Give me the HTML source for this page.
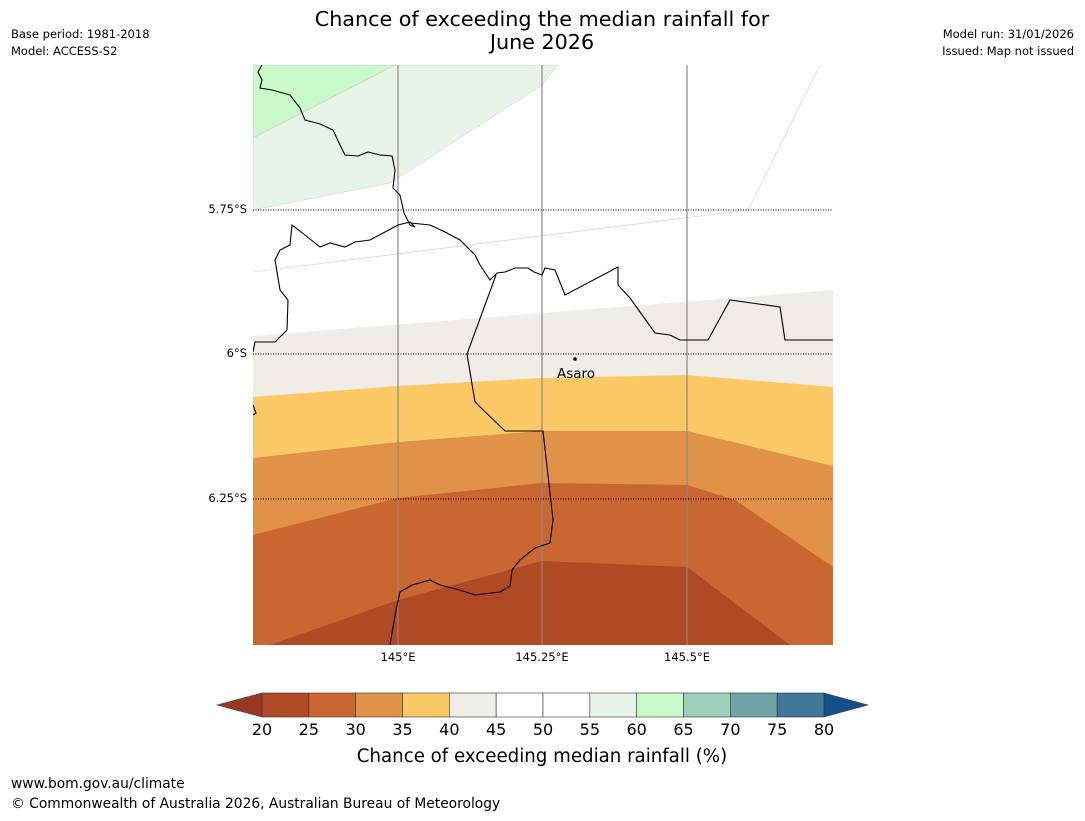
<!DOCTYPE html>
<html><head><meta charset="utf-8"><style>
body{margin:0;background:#fff;width:1085px;height:816px;overflow:hidden;font-family:"Liberation Sans","DejaVu Sans",sans-serif}
</style></head><body>
<svg width="1085" height="816" xmlns="http://www.w3.org/2000/svg" font-family="DejaVu Sans, Liberation Sans, sans-serif">
<text x="542" y="26" font-size="20.7" text-anchor="middle">Chance of exceeding the median rainfall for</text>
<text x="542" y="49" font-size="20.7" text-anchor="middle">June 2026</text>
<text x="11" y="38" font-size="11.5">Base period: 1981-2018</text>
<text x="11" y="55" font-size="11.5">Model: ACCESS-S2</text>
<text x="1074" y="38" font-size="11.5" text-anchor="end">Model run: 31/01/2026</text>
<text x="1074" y="55" font-size="11.5" text-anchor="end">Issued: Map not issued</text>
<defs><clipPath id="mc"><rect x="253" y="65" width="580" height="580"/></clipPath></defs>
<g clip-path="url(#mc)">
<rect x="253" y="65" width="580" height="580" fill="#b04a24"/>
<polygon points="200,645 270,645 398,600 542,561 687,567 790,645 900,645 900,0 200,0" fill="#c96631"/>
<polygon points="200,535 253,535 398,498 542,483 687,485 735,500 833,567 900,567 900,0 200,0" fill="#e09248"/>
<polygon points="200,458 253,458 398,442 542,431 687,431 833,466 900,466 900,0 200,0" fill="#fdc966"/>
<polygon points="200,397 253,397 398,386 542,378 687,375 833,387 900,387 900,0 200,0" fill="#f0ece6"/>
<polygon points="200,336 253,336 833,290 900,290 900,0 200,0" fill="#ffffff"/>
<polygon points="253,210 390,183 542,85 558,65 253,65" fill="#e8f4e8" stroke="#ccc" stroke-width="0.5"/>
<polygon points="253,138 395,65 253,65" fill="#caf9ca" stroke="#bbb" stroke-width="0.5"/>
<polyline points="253,272 748,210 820,65" fill="none" stroke="#ccc" stroke-width="0.6"/>
<g stroke="#888" stroke-width="1.2">
<line x1="398" y1="65" x2="398" y2="645"/><line x1="542" y1="65" x2="542" y2="645"/><line x1="687" y1="65" x2="687" y2="645"/></g>
<g stroke="#000" stroke-width="1" stroke-dasharray="1,1.5">
<line x1="253" y1="210" x2="833" y2="210"/><line x1="253" y1="354" x2="833" y2="354"/><line x1="253" y1="499" x2="833" y2="499"/></g>
<g fill="none" stroke="#000" stroke-width="1.1">
<polyline points="262,65 258,72 262,80 260,88 272,90 290,95 300,108 305,120 320,124 333,130 340,145 345,155 358,156 368,152 380,155 392,156 395,170 393,188 400,195 404,213 410,225 415,227 410,222 398,225 385,232 370,240 355,242 345,247 330,243 320,247 305,235 292,225 290,245 280,250 275,260 280,290 288,300 287,330 275,342 255,342 253,352"/>
<polyline points="411,223 430,225 445,232 460,240 475,255 480,265 490,280 497,273 505,272 515,268 528,268 534,272 542,275 545,268 555,270 565,295 618,267 618,285 630,298 655,333 670,335 680,340 708,340 730,300 780,307 785,340 833,340"/>
<polyline points="496,275 467,354 475,402 505,431 543,431 553,520 550,543 535,548 520,560 512,570 510,586 500,592 475,595 460,590 440,585 430,580 412,585 400,592 396,610 390,645"/>
<polyline points="253,405 256,413 253,415"/>
</g>
<circle cx="575" cy="359" r="1.8" fill="#000"/>
<text x="576" y="378" font-size="13.5" text-anchor="middle">Asaro</text>
</g>
<g font-size="11.5">
<text x="247" y="213" text-anchor="end">5.75°S</text><text x="247" y="357" text-anchor="end">6°S</text><text x="247" y="502" text-anchor="end">6.25°S</text></g>
<g font-size="11.5" text-anchor="middle">
<text x="398" y="661">145°E</text><text x="542" y="661">145.25°E</text><text x="687" y="661">145.5°E</text></g>
<g id="cb"></g>
<text x="542" y="762" font-size="18.2" text-anchor="middle">Chance of exceeding median rainfall (%)</text>
<text x="11" y="788" font-size="13.8">www.bom.gov.au/climate</text>
<text x="11" y="808" font-size="13.8">© Commonwealth of Australia 2026, Australian Bureau of Meteorology</text>
</svg>
<script>
const levels=[20,25,30,35,40,45,50,55,60,65,70,75,80];
const colors=['#b04a24','#c96631','#e09248','#fdc966','#f0ece6','#ffffff','#ffffff','#e8f4e8','#caf9ca','#9dd0ba','#6fa5a6','#3e7797'];
const underColor='#9a3621', overColor='#154f87';
const cb=document.getElementById('cb'), NS='http://www.w3.org/2000/svg';
const x0=262,x1=824,y0=693,y1=717;
const sx=v=>x0+(v-levels[0])/(levels[levels.length-1]-levels[0])*(x1-x0);
function mk(t,a){const e=document.createElementNS(NS,t);for(const k in a)e.setAttribute(k,a[k]);cb.appendChild(e);return e;}
let u=mk('polygon',{points:`${x0},${y0} ${x0},${y1} 217,705`,fill:underColor,stroke:'#444','stroke-width':0.6});


let o=mk('polygon',{points:`${x1},${y0} ${x1},${y1} 868,705`,fill:overColor,stroke:'#444','stroke-width':0.6});


for(let i=0;i<colors.length;i++){
 const r=mk('rect',{x:sx(levels[i]),y:y0,width:sx(levels[i+1])-sx(levels[i]),height:y1-y0,fill:colors[i],stroke:'#333','stroke-width':0.6});
 
 
}
levels.forEach(v=>{
 const t=mk('text',{x:sx(v),y:735,'font-size':16,'text-anchor':'middle'});t.textContent=v;
 
 
});
</script>
</body></html>
